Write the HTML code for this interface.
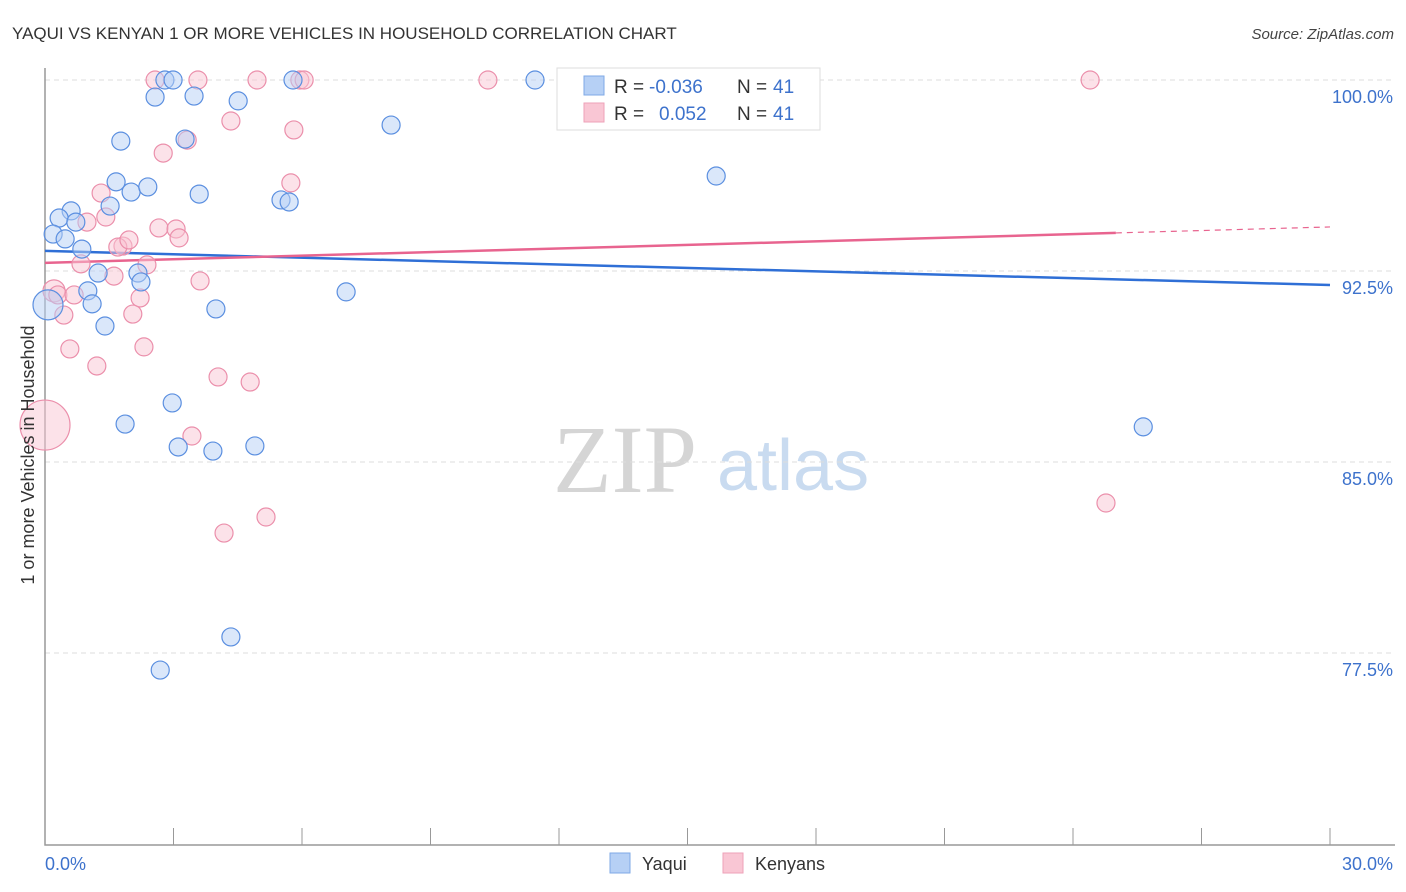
<!DOCTYPE html>
<html><head><meta charset="utf-8"><style>
body{margin:0;background:#fff;font-family:"Liberation Sans",sans-serif;}
svg{display:block}
</style></head><body>
<svg id="c" width="1406" height="892" font-family="Liberation Sans, sans-serif">
<text x="12" y="39" font-size="17" fill="#333">YAQUI VS KENYAN 1 OR MORE VEHICLES IN HOUSEHOLD CORRELATION CHART</text>
<text x="1394" y="39" font-size="15" fill="#444" font-style="italic" text-anchor="end">Source: ZipAtlas.com</text>
<g>
<text x="553" y="492" font-size="96" fill="#d5d5d5" font-family="Liberation Serif, serif">ZIP</text>
<text x="717" y="490" font-size="72" fill="#c9dbf0">atlas</text>
</g>
<g id="grid"></g>
<g id="axes"></g>
<g id="lines"></g>
<g id="pts"></g>
<text transform="translate(34,455) rotate(-90)" font-size="18" fill="#333" text-anchor="middle">1 or more Vehicles in Household</text>
<g>
<rect x="557" y="68" width="263" height="62" fill="#fff" stroke="#ddd"/>
<rect x="584" y="76" width="20" height="19" fill="#b6d0f5" stroke="#7fa9e6"/>
<rect x="584" y="103" width="20" height="19" fill="#f9c6d4" stroke="#eea2b8"/>
<text x="614" y="93" font-size="19" fill="#333">R =</text>
<text x="649" y="93" font-size="19" fill="#3d72cc">-0.036</text>
<text x="737" y="93" font-size="19" fill="#333">N =</text>
<text x="773" y="93" font-size="19" fill="#3d72cc">41</text>
<text x="614" y="120" font-size="19" fill="#333">R =</text>
<text x="659" y="120" font-size="19" fill="#3d72cc">0.052</text>
<text x="737" y="120" font-size="19" fill="#333">N =</text>
<text x="773" y="120" font-size="19" fill="#3d72cc">41</text>
</g>
<g>
<rect x="610" y="853" width="20" height="20" fill="#b6d0f5" stroke="#7fa9e6"/>
<text x="642" y="870" font-size="18" fill="#333">Yaqui</text>
<rect x="723" y="853" width="20" height="20" fill="#f9c6d4" stroke="#eea2b8"/>
<text x="755" y="870" font-size="18" fill="#333">Kenyans</text>
</g>
</svg>
<script>
const yTicks=[100,92.5,85,77.5];
const yTickLabels=["100.0%","92.5%","85.0%","77.5%"];
const xTickLabels=["0.0%","30.0%"];
const yaquiX=[2.8,2.99,5.79,11.44,2.57,3.48,4.51,8.08,1.77,3.27,15.67,1.66,2.01,2.4,3.6,5.51,5.7,1.52,0.61,0.33,0.72,0.19,0.47,0.86,1.24,2.17,2.24,1.0,7.03,1.1,3.99,1.4,0.07,2.97,1.87,25.64,3.11,3.92,4.9,4.34,2.69];
const yaquiY=[100,100,100,100,99.33,99.37,99.18,98.23,97.6,97.68,96.23,96.0,95.6,95.8,95.52,95.29,95.21,95.05,94.86,94.58,94.42,93.95,93.76,93.36,92.42,92.42,92.07,91.72,91.68,91.21,91.01,90.34,91.17,87.32,86.49,86.38,85.59,85.43,85.63,78.13,76.83];
const yaquiR=[9,9,9,9,9,9,9,9,9,9,9,9,9,9,9,9,9,9,9,9,9,9,9,9,9,9,9,9,9,9,9,9,15,9,9,9,9,9,9,9,9];
const kenX=[2.57,3.57,4.95,5.95,6.05,10.34,24.4,4.34,5.81,3.32,2.76,5.74,1.31,1.42,0.98,2.66,3.06,3.13,1.82,1.7,1.96,2.38,0.84,3.62,1.61,2.22,0.21,0.3,0.68,0.44,2.05,0.58,2.31,1.21,4.04,4.79,3.43,0,5.16,4.18,24.77];
const kenY=[100,100,100,100,100,100,100,98.39,98.04,97.64,97.13,95.96,95.56,94.62,94.42,94.19,94.15,93.8,93.48,93.44,93.72,92.74,92.78,92.11,92.3,91.44,91.72,91.56,91.56,90.77,90.81,89.44,89.52,88.77,88.34,88.14,86.02,86.45,82.84,82.21,83.39];
const kenR=[9,9,9,9,9,9,9,9,9,9,9,9,9,9,9,9,9,9,9,9,9,9,9,9,9,9,11,9,9,9,9,9,9,9,9,9,9,25,9,9,9];
const yaquiTrend=[93.29,91.95];
const kenTrend=[92.82,94.23];
const kenSolidEnd=25;
const NS="http://www.w3.org/2000/svg";
const X=v=>45+v*1285/30, Y=v=>80+(100-v)*191/7.5;
function mk(t,a,p){const e=document.createElementNS(NS,t);for(const k in a)e.setAttribute(k,a[k]);p.appendChild(e);return e;}
const grid=document.getElementById('grid'),axes=document.getElementById('axes'),lines=document.getElementById('lines'),pts=document.getElementById('pts');
yTicks.forEach((t,i)=>{
 const l=mk('line',{x1:45,x2:1395,y1:Y(t),y2:Y(t),stroke:'#ddd','stroke-dasharray':'5,4'},grid);
 
 
 const tx=mk('text',{x:1393,y:Y(t)+23,'font-size':18,fill:'#3d72cc','text-anchor':'end'},axes);
 tx.textContent=yTickLabels[i];
 
 
});
const ax=mk('path',{d:'M45,68V845H1395',fill:'none',stroke:'#999','stroke-width':1.5},axes);


for(let i=0;i<=10;i++){
 const t=mk('line',{x1:X(i*3),x2:X(i*3),y1:828,y2:845,stroke:'#999'},axes);
 
 
}
[[0,'start',45],[30,'end',1393]].forEach((d,i)=>{
 const t=mk('text',{x:d[2],y:870,'font-size':18,fill:'#3d72cc','text-anchor':d[1]},axes);
 t.textContent=xTickLabels[i];
 
 
});
function dots(xs,ys,rs,fill,stroke,name){
 xs.forEach((x,i)=>{
  const c=mk('circle',{cx:X(x),cy:Y(ys[i]),r:rs[i],fill:fill,'fill-opacity':0.5,stroke:stroke,'stroke-width':1.2},pts);
  
  
 });
}
dots(kenX,kenY,kenR,'#f9c6d4','#eb8fab','kenyans-point');
dots(yaquiX,yaquiY,yaquiR,'#b6d0f5','#5b8fe0','yaqui-point');
const yl=mk('line',{x1:X(0),y1:Y(yaquiTrend[0]),x2:X(30),y2:Y(yaquiTrend[1]),stroke:'#2f6fd6','stroke-width':2.5},lines);


const kAt=v=>kenTrend[0]+(kenTrend[1]-kenTrend[0])*v/30;
const kl=mk('line',{x1:X(0),y1:Y(kenTrend[0]),x2:X(kenSolidEnd),y2:Y(kAt(kenSolidEnd)),stroke:'#e8648f','stroke-width':2.5},lines);


const kd=mk('line',{x1:X(kenSolidEnd),y1:Y(kAt(kenSolidEnd)),x2:X(30),y2:Y(kenTrend[1]),stroke:'#e8648f','stroke-width':1.2,'stroke-dasharray':'6,5'},lines);


</script>
</body></html>
